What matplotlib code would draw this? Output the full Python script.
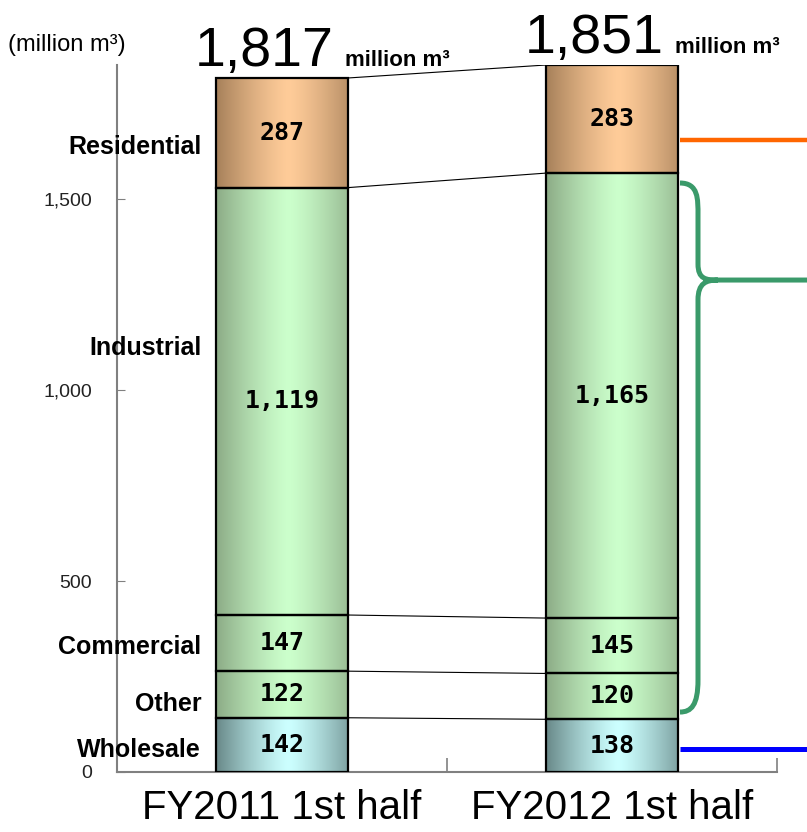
import numpy as np
import matplotlib
matplotlib.use("Agg")
import matplotlib.pyplot as plt
from matplotlib.colors import to_rgb
from matplotlib.path import Path
from matplotlib.patches import PathPatch

plt.rcParams['font.family'] = ['Liberation Sans', 'DejaVu Sans']

# data (bottom to top)
periods = ["FY2011 1st half", "FY2012 1st half"]
segments = ["Wholesale", "Other", "Commercial", "Industrial", "Residential"]
fy2011 = [142, 122, 147, 1119, 287]
fy2012 = [138, 120, 145, 1165, 283]
totals = ["1,817", "1,851"]
value_labels = [["142", "122", "147", "1,119", "287"],
                ["138", "120", "145", "1,165", "283"]]
yticks = [0, 500, 1000, 1500]
ytick_labels = ["0", "500", "1,000", "1,500"]

# gradient colours per segment: (edge, centre)
seg_colors = {
    "Wholesale": ("#688888", "#ccffff"),
    "Other": ("#8cab86", "#ccffcc"),
    "Commercial": ("#8cab86", "#ccffcc"),
    "Industrial": ("#8cab86", "#ccffcc"),
    "Residential": ("#a6805a", "#ffcc99"),
}
# y position (data units) of the row labels on the left
label_y = [58, 178, 327, 1110, 1636]


def gradient(edge, centre, n=256):
    t = np.linspace(0, 1, n)
    f = 1 - np.clip(np.abs(t - 0.55) / 0.55, 0, 1) ** 1.3
    e = np.array(to_rgb(edge))
    c = np.array(to_rgb(centre))
    rgb = e[None, :] + (c - e)[None, :] * f[:, None]
    return rgb[None, :, :]


fig = plt.figure(figsize=(8.07, 8.32), dpi=100)
ax = fig.add_axes([117 / 807, 1 - 772 / 832, 660 / 807, 707 / 832])

x = np.arange(len(periods))
width = 0.4
data = [fy2011, fy2012]
bar_edges = []   # cumulative tops per bar
bar_patches = []
for i, vals in enumerate(data):
    bottoms = np.concatenate([[0], np.cumsum(vals)[:-1]])
    bars = ax.bar([x[i]] * len(vals), vals, width, bottom=bottoms,
                  facecolor="none", edgecolor="black", linewidth=1.6, zorder=3)
    bar_patches.append(bars)
    bar_edges.append(np.cumsum(vals))
    for j, p in enumerate(bars):
        edge, centre = seg_colors[segments[j]]
        ax.imshow(gradient(edge, centre),
                  extent=(p.get_x(), p.get_x() + p.get_width(),
                          p.get_y(), p.get_y() + p.get_height()),
                  aspect="auto", interpolation="bilinear", zorder=2)
        ax.text(p.get_x() + p.get_width() / 2, p.get_y() + p.get_height() / 2,
                value_labels[i][j], ha="center", va="center",
                fontsize=18, fontweight="bold", family="DejaVu Sans Mono", zorder=4)

# connector lines between bars
r0 = bar_patches[0][0].get_x() + width
l1 = bar_patches[1][0].get_x()
for a, b in zip(bar_edges[0], bar_edges[1]):
    ax.plot([r0, l1], [a, b], color="black", linewidth=0.8, zorder=1)

# totals above bars
for i in range(2):
    p = bar_patches[i][-1]
    top = bar_edges[i][-1]
    ax.annotate(totals[i], xy=(p.get_x(), top), xytext=(-21, 12),
                textcoords="offset pixels", ha="left", va="baseline",
                fontsize=40, annotation_clip=False)
    ax.annotate("million m³", xy=(p.get_x() + width, top), xytext=(-3, 12),
                textcoords="offset pixels", ha="left", va="baseline",
                fontsize=16, fontweight="bold", annotation_clip=False)

# row labels on the left
for name, yy in zip(segments, label_y):
    ax.text(-0.245, yy, name, ha="right", va="center", fontsize=18,
            fontweight="bold", zorder=5, clip_on=False)

fig.text(8 / 807, 1 - 45 / 832, "(million m³)", ha="left", va="center",
         fontsize=17)

# right-side markers
ax.plot([1.206, 1.591], [1655, 1655], color="#ff6600", linewidth=3.2,
        clip_on=False, solid_capstyle="butt")
ax.plot([1.206, 1.591], [60, 60], color="#0000ff", linewidth=3.6,
        clip_on=False, solid_capstyle="butt")
green = "#3a9a6a"
verts = [(1.206, 1542), (1.262, 1542), (1.2606, 1500), (1.2606, 1458),
         (1.2606, 1330),
         (1.2606, 1290), (1.285, 1288), (1.321, 1288),
         (1.591, 1288),
         (1.321, 1288),
         (1.285, 1288), (1.2606, 1280), (1.2606, 1236),
         (1.2606, 241),
         (1.2606, 175), (1.24, 157), (1.206, 157)]
codes = [Path.MOVETO, Path.CURVE4, Path.CURVE4, Path.CURVE4,
         Path.LINETO,
         Path.CURVE4, Path.CURVE4, Path.CURVE4,
         Path.LINETO,
         Path.MOVETO,
         Path.CURVE4, Path.CURVE4, Path.CURVE4,
         Path.LINETO,
         Path.CURVE4, Path.CURVE4, Path.CURVE4]
ax.add_patch(PathPatch(Path(verts, codes), facecolor="none", edgecolor=green,
                       linewidth=3.6, clip_on=False, capstyle="butt"))

# axes styling
ax.set_xlim(-0.5, 1.5)
ax.set_ylim(0, 1851)
for s in ["top", "right"]:
    ax.spines[s].set_visible(False)
for s in ["left", "bottom"]:
    ax.spines[s].set_color("#808080")
    ax.spines[s].set_linewidth(1.5)
ax.set_yticks(yticks)
ax.set_yticklabels(ytick_labels, fontsize=14, color="#222222")
ax.tick_params(axis="y", direction="in", length=6, color="#808080", pad=18)
ax.set_xticks(x)
ax.set_xticklabels(periods, fontsize=29)
ax.tick_params(axis="x", length=0, pad=12)
ax.set_xticks([-0.5, 0.5, 1.5], minor=True)
ax.tick_params(axis="x", which="minor", direction="in", length=10,
               color="#808080", width=1.2)

fig.savefig("out.png", dpi=100)
